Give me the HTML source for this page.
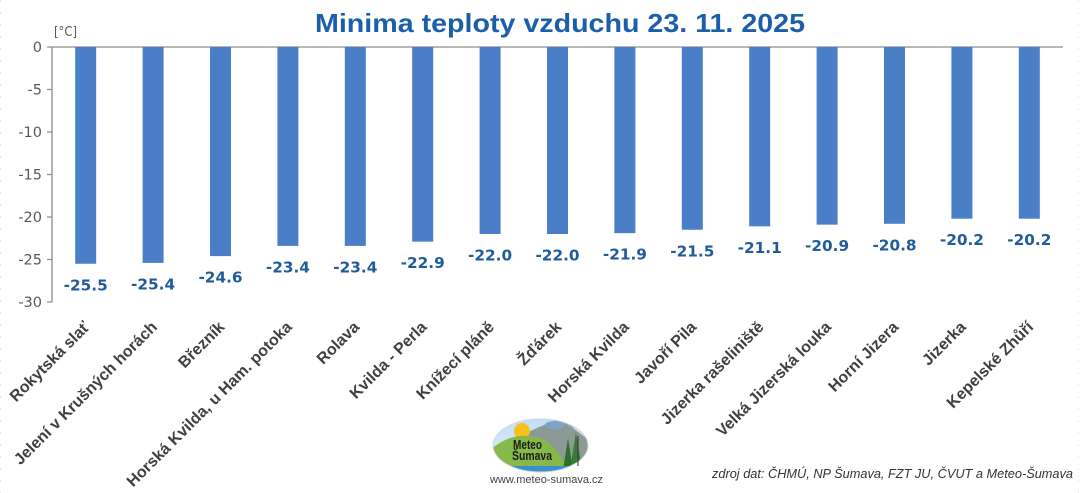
<!DOCTYPE html>
<html>
<head>
<meta charset="utf-8">
<style>
html,body{margin:0;padding:0;background:#fff;}
svg{display:block;}
.tick{font-family:"DejaVu Sans",sans-serif;font-size:14.5px;fill:#595959;}
.val{font-family:"DejaVu Sans",sans-serif;font-weight:bold;font-size:15.3px;fill:#1f5c99;}
.cat{font-family:"Liberation Sans",sans-serif;font-weight:bold;font-size:16px;fill:#404040;}
</style>
</head>
<body>
<svg width="1080" height="493" viewBox="0 0 1080 493" xmlns="http://www.w3.org/2000/svg">
<rect width="1080" height="493" fill="#fff"/>
<line x1="0.5" y1="0" x2="0.5" y2="493" stroke="#e4e4e4" stroke-width="1" stroke-dasharray="2,10"/>
<line x1="1078.5" y1="0" x2="1078.5" y2="493" stroke="#e8e8e8" stroke-width="1" stroke-dasharray="2,10"/>

<!-- Title -->
<text x="560" y="32" text-anchor="middle" textLength="490" lengthAdjust="spacingAndGlyphs" font-family="Liberation Sans, sans-serif" font-weight="bold" font-size="26" fill="#1b5faa">Minima teploty vzduchu 23. 11. 2025</text>

<!-- unit -->
<text x="54" y="36" textLength="23" lengthAdjust="spacingAndGlyphs" font-family="DejaVu Sans, sans-serif" font-size="13" fill="#595959">[°C]</text>

<!-- axes -->
<line x1="52" y1="47" x2="1063" y2="47" stroke="#8c8c8c" stroke-width="1.3"/>
<line x1="52" y1="47" x2="52" y2="302" stroke="#8c8c8c" stroke-width="1.3"/>
<g stroke="#8c8c8c" stroke-width="1.2">
<line x1="47" y1="47" x2="52" y2="47"/>
<line x1="47" y1="89.5" x2="52" y2="89.5"/>
<line x1="47" y1="132" x2="52" y2="132"/>
<line x1="47" y1="174.5" x2="52" y2="174.5"/>
<line x1="47" y1="217" x2="52" y2="217"/>
<line x1="47" y1="259.5" x2="52" y2="259.5"/>
<line x1="47" y1="302" x2="52" y2="302"/>
</g>
<g class="tick" text-anchor="end">
<text x="42" y="52">0</text>
<text x="42" y="94.5">-5</text>
<text x="42" y="137">-10</text>
<text x="42" y="179.5">-15</text>
<text x="42" y="222">-20</text>
<text x="42" y="264.5">-25</text>
<text x="42" y="307">-30</text>
</g>

<!-- bars -->
<g fill="#4a7fc7">
<rect x="75.2" y="47" width="21" height="216.75"/>
<rect x="142.6" y="47" width="21" height="215.9"/>
<rect x="210" y="47" width="21" height="209.1"/>
<rect x="277.4" y="47" width="21" height="198.9"/>
<rect x="344.8" y="47" width="21" height="198.9"/>
<rect x="412.2" y="47" width="21" height="194.65"/>
<rect x="479.6" y="47" width="21" height="187"/>
<rect x="547" y="47" width="21" height="187"/>
<rect x="614.4" y="47" width="21" height="186.15"/>
<rect x="681.8" y="47" width="21" height="182.75"/>
<rect x="749.2" y="47" width="21" height="179.35"/>
<rect x="816.6" y="47" width="21" height="177.65"/>
<rect x="884" y="47" width="21" height="176.8"/>
<rect x="951.4" y="47" width="21" height="171.7"/>
<rect x="1018.8" y="47" width="21" height="171.7"/>
</g>

<!-- value labels -->
<g class="val" text-anchor="middle">
<text x="85.7" y="290.3">-25.5</text>
<text x="153.1" y="289.4">-25.4</text>
<text x="220.5" y="282.6">-24.6</text>
<text x="287.9" y="272.4">-23.4</text>
<text x="355.3" y="272.4">-23.4</text>
<text x="422.7" y="268.2">-22.9</text>
<text x="490.1" y="260.5">-22.0</text>
<text x="557.5" y="260.5">-22.0</text>
<text x="624.9" y="259.7">-21.9</text>
<text x="692.3" y="256.3">-21.5</text>
<text x="759.7" y="252.9">-21.1</text>
<text x="827.1" y="251.2">-20.9</text>
<text x="894.5" y="250.3">-20.8</text>
<text x="961.9" y="245.2">-20.2</text>
<text x="1029.3" y="245.2">-20.2</text>
</g>

<!-- category labels -->
<g class="cat" text-anchor="end">
<text transform="translate(86.7,324) rotate(-45)" dy="0.35em">Rokytská slať</text>
<text transform="translate(154.1,324) rotate(-45)" dy="0.35em">Jelení v Krušných horách</text>
<text transform="translate(221.5,324) rotate(-45)" dy="0.35em">Březník</text>
<text transform="translate(288.9,324) rotate(-45)" dy="0.35em">Horská Kvilda, u Ham. potoka</text>
<text transform="translate(356.3,324) rotate(-45)" dy="0.35em">Rolava</text>
<text transform="translate(423.7,324) rotate(-45)" dy="0.35em">Kvilda - Perla</text>
<text transform="translate(491.1,324) rotate(-45)" dy="0.35em">Knížecí pláně</text>
<text transform="translate(558.5,324) rotate(-45)" dy="0.35em">Žďárek</text>
<text transform="translate(625.9,324) rotate(-45)" dy="0.35em">Horská Kvilda</text>
<text transform="translate(693.3,324) rotate(-45)" dy="0.35em">Javoří Pila</text>
<text transform="translate(760.7,324) rotate(-45)" dy="0.35em">Jizerka rašeliniště</text>
<text transform="translate(828.1,324) rotate(-45)" dy="0.35em">Velká Jizerská louka</text>
<text transform="translate(895.5,324) rotate(-45)" dy="0.35em">Horní Jizera</text>
<text transform="translate(962.9,324) rotate(-45)" dy="0.35em">Jizerka</text>
<text transform="translate(1030.3,324) rotate(-45)" dy="0.35em">Kepelské Zhůří</text>
</g>

<!-- logo -->
<defs>
<clipPath id="lc"><ellipse cx="540.5" cy="445.5" rx="47.5" ry="26.5"/></clipPath>
<linearGradient id="sky" x1="0" y1="0" x2="0" y2="1">
<stop offset="0" stop-color="#bfdcf2"/><stop offset="1" stop-color="#e8f3fb"/>
</linearGradient>
</defs>
<g clip-path="url(#lc)">
<rect x="490" y="415" width="102" height="60" fill="url(#sky)"/>
<path d="M528 432 L560 418 L595 445 L595 475 L528 475 Z" fill="#8c9a95"/>
<circle cx="522" cy="431" r="8" fill="#f6c21a"/>
<path d="M490 475 L490 450 Q515 428 545 440 Q560 450 570 475 Z" fill="#86b94a"/>
<path d="M563 470 L568 438 L573 470 Z" fill="#2f6e2f"/>
<path d="M570 470 L576 432 L582 470 Z" fill="#3a7d34"/>
<rect x="490" y="466" width="102" height="10" fill="#3b8fd0"/>
<ellipse cx="555" cy="425" rx="10" ry="4" fill="#7fa4c4"/>
<ellipse cx="575" cy="424" rx="8" ry="3.5" fill="#8aaed0"/>
</g>
<ellipse cx="540.5" cy="445.5" rx="47.5" ry="26.5" fill="none" stroke="#cfd8de" stroke-width="1"/>
<line x1="578" y1="436" x2="578" y2="466" stroke="#333" stroke-width="1"/>
<text x="527.5" y="449" text-anchor="middle" textLength="29" lengthAdjust="spacingAndGlyphs" font-family="Liberation Sans, sans-serif" font-weight="bold" font-size="12.5" fill="#1c1c1c">Meteo</text>
<text x="532" y="460" text-anchor="middle" textLength="40" lengthAdjust="spacingAndGlyphs" font-family="Liberation Sans, sans-serif" font-weight="bold" font-size="12.5" fill="#1c1c1c">Šumava</text>
<text x="490" y="483" textLength="113" lengthAdjust="spacingAndGlyphs" font-family="Liberation Sans, sans-serif" font-size="11" fill="#444">www.meteo-sumava.cz</text>

<!-- source -->
<text x="712" y="478" textLength="361" lengthAdjust="spacingAndGlyphs" font-family="Liberation Sans, sans-serif" font-style="italic" font-size="13" fill="#333">zdroj dat: ČHMÚ, NP Šumava, FZT JU, ČVUT a Meteo-Šumava</text>
</svg>
</body>
</html>
